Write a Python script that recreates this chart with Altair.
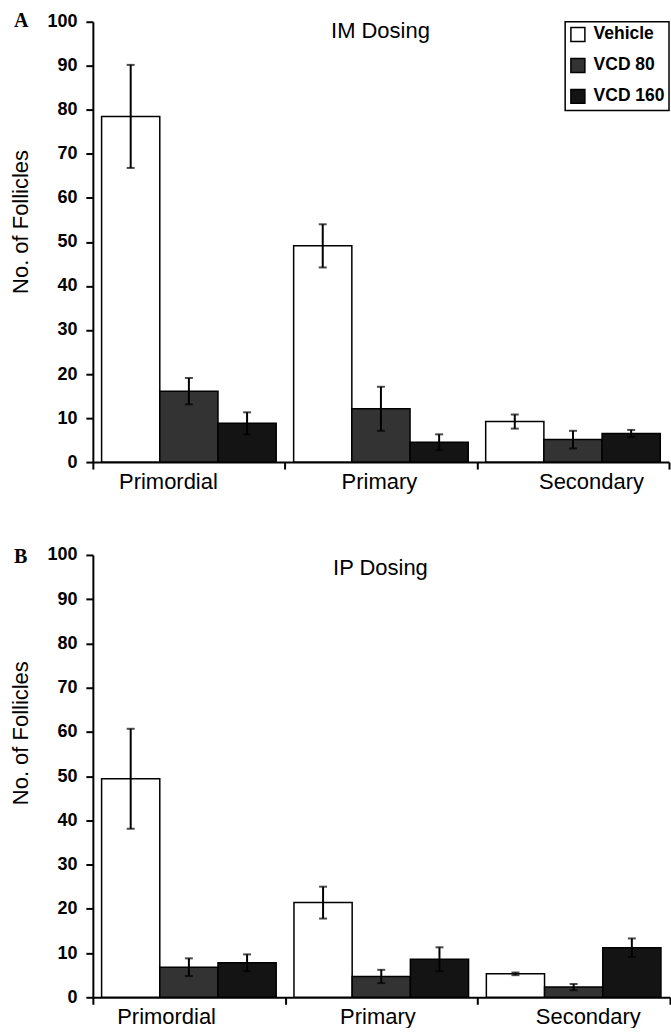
import altair as alt
import pandas as pd

categories = ["Primordial", "Primary", "Secondary"]
treatments = ["Vehicle", "VCD 80", "VCD 160"]
fills = ["#ffffff", "#333333", "#141414"]

# Panel A - IM dosing (mean, error)
im_vehicle = [78.5, 49.1, 9.2]
im_vcd80 = [16.1, 12.1, 5.1]
im_vcd160 = [8.8, 4.5, 6.5]
im_vehicle_err = [11.7, 4.9, 1.6]
im_vcd80_err = [3.0, 5.0, 2.0]
im_vcd160_err = [2.5, 1.8, 0.8]

# Panel B - IP dosing (mean, error)
ip_vehicle = [49.4, 21.4, 5.3]
ip_vcd80 = [6.8, 4.7, 2.3]
ip_vcd160 = [7.8, 8.6, 11.2]
ip_vehicle_err = [11.3, 3.6, 0.3]
ip_vcd80_err = [2.0, 1.5, 0.7]
ip_vcd160_err = [1.9, 2.7, 2.1]

y_ticks = list(range(0, 101, 10))
SANS = "Liberation Sans"
SERIF = "Liberation Serif"


def frame(means, errs):
    rows = []
    for t, m, e in zip(treatments, means, errs):
        for c, v, s in zip(categories, m, e):
            rows.append(dict(category=c, treatment=t, value=v, lo=v - s, hi=v + s))
    return pd.DataFrame(rows)


def panel(df, title, letter, width, height, show_legend, label_shift,
          title_y, letter_y, ytitle_y):
    shift = {
        "condition": [
            {"test": "datum.value === '%s'" % categories[0], "value": label_shift[0]},
            {"test": "datum.value === '%s'" % categories[2], "value": label_shift[2]},
        ],
        "value": label_shift[1],
    }
    x = alt.X(
        "category:N",
        sort=categories,
        scale=alt.Scale(paddingInner=0, paddingOuter=0),
        axis=alt.Axis(
            title=None,
            labelAngle=0,
            tickBand="extent",
            labelFont=SANS,
            labelFontSize=22,
            labelPadding=2,
            labelColor="black",
            labelOffset=shift,
        ),
    )
    xo = alt.XOffset(
        "treatment:N",
        sort=treatments,
        scale=alt.Scale(paddingInner=0, paddingOuter=0.15),
    )
    yaxis = alt.Axis(
        values=y_ticks,
        title="No. of Follicles",
        labelFont=SANS,
        labelFontSize=18,
        labelFontWeight="bold",
        labelPadding=9,
        labelColor="black",
        titleFont=SANS,
        titleFontSize=22,
        titleFontWeight="normal",
        titleColor="black",
        titlePadding=14,
        titleY=ytitle_y,
    )
    yscale = alt.Scale(domain=[0, 100], nice=False)
    if show_legend:
        leg = alt.Legend(
            title=None,
            orient="none",
            legendX=473,
            legendY=0,
            symbolType="square",
            symbolSize=196,
            symbolStrokeColor="black",
            symbolStrokeWidth=1.5,
            symbolOpacity=1,
            labelFont=SANS,
            labelFontSize=17.5,
            labelFontWeight="bold",
            labelColor="black",
            labelOffset=7,
            strokeColor="black",
            fillColor="white",
            padding=4,
            rowPadding=10,
        )
    else:
        leg = None
    color = alt.Color(
        "treatment:N",
        sort=treatments,
        scale=alt.Scale(domain=treatments, range=fills),
        legend=leg,
    )
    base = alt.Chart(df)
    bars = base.mark_bar(stroke="black", strokeWidth=1.5, opacity=1).encode(
        x=x, xOffset=xo, y=alt.Y("value:Q", scale=yscale, axis=yaxis), color=color
    )
    whisk = base.mark_rule(color="black", strokeWidth=2).encode(
        x=x, xOffset=xo, y=alt.Y("lo:Q", scale=yscale, axis=yaxis), y2="hi:Q"
    )
    cap_hi = base.mark_tick(color="black", size=8, thickness=2).encode(
        x=x, xOffset=xo, y=alt.Y("hi:Q", scale=yscale, axis=yaxis)
    )
    cap_lo = base.mark_tick(color="black", size=8, thickness=2).encode(
        x=x, xOffset=xo, y=alt.Y("lo:Q", scale=yscale, axis=yaxis)
    )
    ttl = alt.Chart(pd.DataFrame({"t": [title]})).mark_text(
        font=SANS, fontSize=22, color="black", baseline="alphabetic", align="center"
    ).encode(text="t:N", x=alt.value(288), y=alt.value(title_y))
    lab = alt.Chart(pd.DataFrame({"t": [letter]})).mark_text(
        font=SERIF, fontSize=20, fontWeight="bold", color="black",
        baseline="alphabetic", align="left"
    ).encode(text="t:N", x=alt.value(-79), y=alt.value(letter_y))
    return alt.layer(bars, whisk, cap_hi, cap_lo, ttl, lab).properties(
        width=width, height=height
    )


pa = panel(frame([im_vehicle, im_vcd80, im_vcd160],
                 [im_vehicle_err, im_vcd80_err, im_vcd160_err]),
           "IM Dosing", "A", 577, 441, True, [-21, -2, 18], 16, 5, 200)
pb = panel(frame([ip_vehicle, ip_vcd80, ip_vcd160],
                 [ip_vehicle_err, ip_vcd80_err, ip_vcd160_err]),
           "IP Dosing", "B", 578, 443, False, [-23, -4, 14], 20, 8, 178)

chart = (
    alt.vconcat(pa, pb, spacing=54)
    .resolve_legend(color="independent")
    .properties(padding={"left": 9, "top": 10, "right": 0, "bottom": 0}, background="white")
    .configure_view(stroke=None)
    .configure_axis(
        grid=False,
        domainColor="black",
        domainWidth=2,
        tickColor="black",
        tickWidth=2,
        tickSize=7,
    )
    .configure_legend(strokeWidth=1.5)
)

chart.save("out.html", embed_options={"renderer": "svg", "actions": False})
